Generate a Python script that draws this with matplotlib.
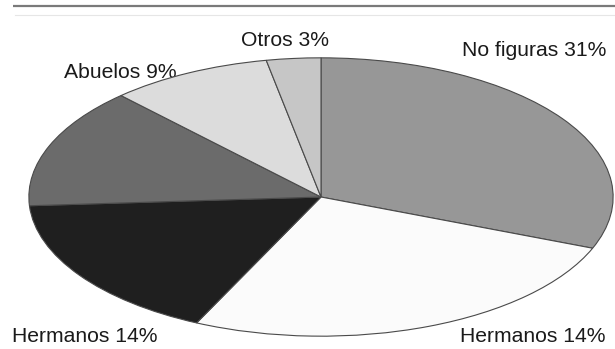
import matplotlib
matplotlib.use("Agg")
import matplotlib.pyplot as plt

# Data (wedges clockwise from 12 o'clock)
categories = ["No figuras", "Hermanos (der.)", "Hermanos (izq.)", "Otros familiares", "Abuelos", "Otros"]
values = [31, 26, 17, 14, 9, 3]
colors = ["#979797", "#fbfbfb", "#1f1f1f", "#6b6b6b", "#dcdcdc", "#c6c6c6"]

label_texts = ["Otros 3%", "No figuras 31%", "Abuelos 9%", "Hermanos 14%", "Hermanos 14%"]
label_pos = [(241, 41), (462, 50), (64, 73), (12, 337), (460, 337)]

plt.rcParams['font.family'] = ['Liberation Sans', 'DejaVu Sans']

W, H = 615, 349
fig = plt.figure(figsize=(W / 100, H / 100), dpi=100)
fig.patch.set_facecolor("white")

# background axes in pixel coordinates
bg = fig.add_axes([0, 0, 1, 1])
bg.set_xlim(0, W)
bg.set_ylim(H, 0)
bg.axis("off")
bg.plot([13, W], [6, 6], color="#7a7a7a", lw=1.6, solid_capstyle="butt")
bg.plot([15, W], [15, 15], color="#e6e6e6", lw=0.8)

for t, (x, y) in zip(label_texts, label_pos):
    bg.text(x, y, t, ha="left", va="center", fontsize=15.2, color="#1a1a1a")

# elliptical pie
x0, x1 = 28, 614
y0, y1 = 57, 337
ax = fig.add_axes([x0 / W, 1 - y1 / H, (x1 - x0) / W, (y1 - y0) / H])
ax.pie(values, colors=colors, startangle=90, counterclock=False, radius=1,
       wedgeprops=dict(edgecolor="#4a4a4a", linewidth=0.8))
ax.set_aspect("auto")
ax.set_xlim(-1.003, 1.003)
ax.set_ylim(-1.006, 1.006)
ax.axis("off")

fig.savefig("out.png", dpi=100, facecolor="white")
